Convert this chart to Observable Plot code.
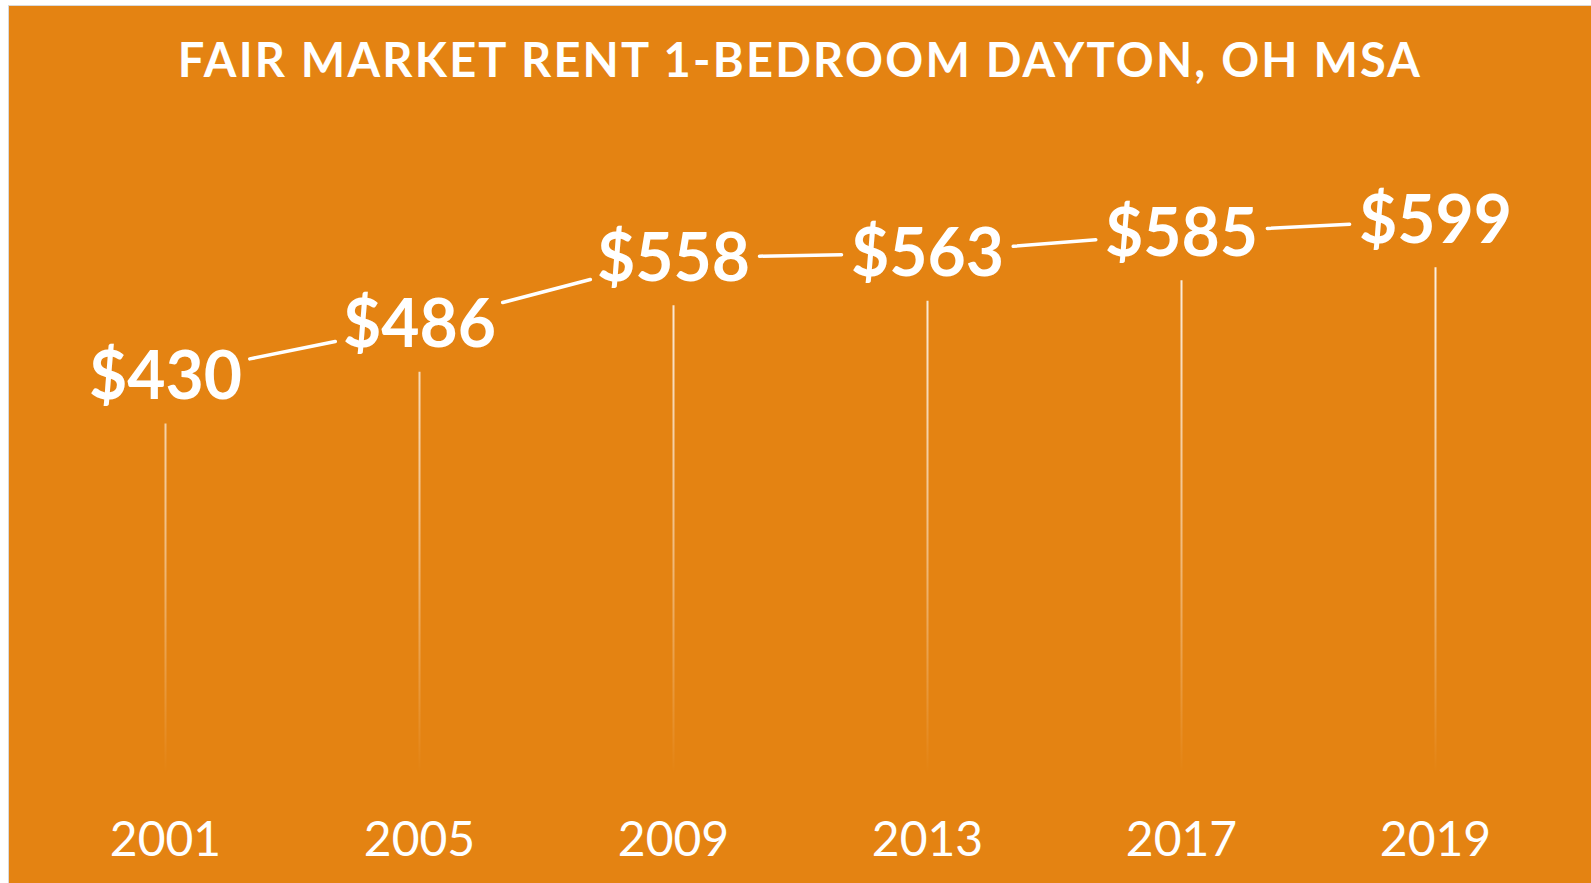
<!DOCTYPE html>
<html>
<head>
<meta charset="utf-8">
<script src="https://cdn.jsdelivr.net/npm/d3@7"></script>
<script src="https://cdn.jsdelivr.net/npm/@observablehq/plot@0.6"></script>
<style>
  html, body { margin: 0; padding: 0; background: #ffffff; }
  #wrap {
    position: absolute; left: 8px; top: 5px;
    width: 1582px; height: 877px;
    border: 1px solid #d9d9d9;
    background: #e48312;
    overflow: hidden;
  }
  #title {
    height: 110px;
    display: flex; align-items: flex-start; justify-content: center;
    font-family: Lato, "Open Sans", sans-serif;
    font-weight: bold; color: #ffffff;
    font-size: 47px; letter-spacing: 2.2px;
    line-height: 1; padding-top: 30px; box-sizing: border-box;
  }
</style>
</head>
<body>
<div id="wrap">
  <div id="title">FAIR MARKET RENT 1-BEDROOM DAYTON, OH MSA</div>
  <div id="chart"></div>
</div>
<script>
const years = ["2001", "2005", "2009", "2013", "2017", "2019"];
const rents = [430, 486, 558, 563, 585, 599];

const data = years.map((y, i) => ({year: y, rent: rents[i]}));
const segs = data.slice(1).map((d, i) => ({x1: data[i].year, y1: data[i].rent, x2: d.year, y2: d.rent}));

const chart = Plot.plot({
  width: 1582,
  height: 767,
  marginLeft: 155,
  marginRight: 155,
  marginTop: 10,
  marginBottom: 110,
  style: {background: "transparent", fontFamily: "Lato, 'Open Sans', sans-serif", color: "#ffffff", overflow: "visible"},
  x: {type: "point", domain: years, padding: 0, label: null},
  y: {domain: [0, 700], axis: null},
  marks: [
    Plot.ruleX(data, {x: "year", y1: "rent", y2: 0, insetTop: 48, stroke: "url(#dropFade)", strokeWidth: 2}),
    Plot.arrow(segs, {x1: "x1", y1: "y1", x2: "x2", y2: "y2", stroke: "#ffffff", strokeWidth: 3.5, headLength: 0, bend: 0, inset: 86}),
    Plot.text(data, {x: "year", y: "rent", text: d => "$" + d.rent, fill: "#ffffff", fontSize: 66, fontWeight: "bold", textAnchor: "middle", lineAnchor: "middle", dy: 2}),
    Plot.axisX({tickSize: 0, tickPadding: 48, fontSize: 48, fill: "#ffffff", label: null})
  ]
});

const y = chart.scale("y");
const ns = "http://www.w3.org/2000/svg";
const defs = document.createElementNS(ns, "defs");
defs.innerHTML = `<linearGradient id="dropFade" gradientUnits="userSpaceOnUse" x1="0" x2="0" y1="${y.apply(600)}" y2="${y.apply(0)}">
  <stop offset="0" stop-color="#ffffff" stop-opacity="0.95"/>
  <stop offset="0.6" stop-color="#ffffff" stop-opacity="0.45"/>
  <stop offset="1" stop-color="#ffffff" stop-opacity="0"/>
</linearGradient>`;
chart.insertBefore(defs, chart.firstChild);
document.getElementById("chart").appendChild(chart);
</script>
</body>
</html>
